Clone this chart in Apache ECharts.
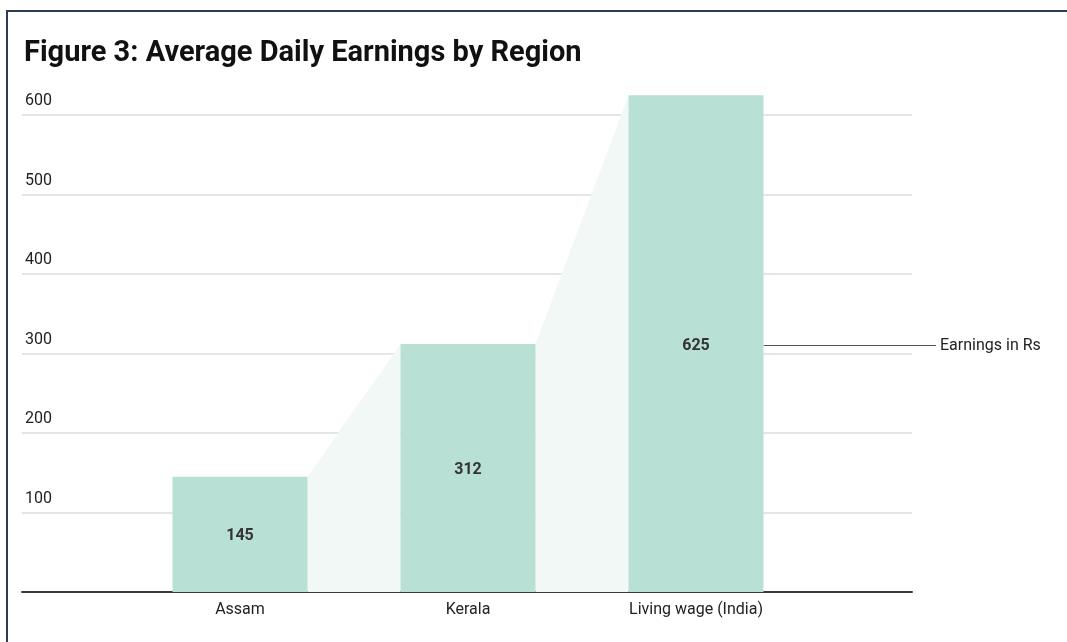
<!DOCTYPE html>
<html>
<head>
<meta charset="utf-8">
<script src="https://cdn.jsdelivr.net/npm/echarts@6/dist/echarts.min.js"></script>
<style>
  html, body { margin: 0; padding: 0; background: #fff; }
  #chart { width: 1067px; height: 642px; }
</style>
</head>
<body>
<div id="chart"></div>
<script>
// data
const categories = ["Assam", "Kerala", "Living wage (India)"];
const earnings = [145, 312, 625];
const yTicks = [0, 100, 200, 300, 400, 500, 600];
const seriesName = "Earnings in Rs";
const titleText = "Figure 3: Average Daily Earnings by Region";

const barColor = "#b9e0d5";
const bridgeColor = "#f2f8f6";
const barRatio = 135 / 228;

const chart = echarts.init(document.getElementById("chart"));

// connectors between neighbouring bar tops
const bridges = [];
for (let i = 0; i < earnings.length - 1; i++) {
  bridges.push([i, earnings[i], earnings[i + 1]]);
}

function frame(extra) {
  return [
    { type: "line", shape: { x1: 7, y1: 11, x2: 7, y2: 642 }, style: { stroke: "#2d3b55", lineWidth: 2 } },
    { type: "line", shape: { x1: 6, y1: 11, x2: 1067, y2: 11 }, style: { stroke: "#2d3b55", lineWidth: 2 } }
  ].concat(extra || []);
}

chart.setOption({
  animation: false,
  textStyle: { fontFamily: "Roboto" },
  title: {
    text: titleText,
    left: 19,
    top: 34,
    textStyle: { fontSize: 29, fontWeight: "bold", color: "#111", fontFamily: "Roboto" }
  },
  grid: [
    { left: 22, right: 155, top: 115, bottom: 50 },
    { left: 126, right: 257, top: 115, bottom: 50 }
  ],
  xAxis: [
    {
      gridIndex: 0,
      type: "value",
      min: 0,
      max: 1,
      axisLine: { show: true, lineStyle: { color: "#3a3a3a", width: 2 } },
      axisTick: { show: false },
      axisLabel: { show: false },
      splitLine: { show: false }
    },
    {
      gridIndex: 1,
      type: "category",
      data: categories,
      axisLine: { show: false },
      axisTick: { show: false },
      axisLabel: { color: "#222", fontSize: 16, margin: 10 }
    }
  ],
  yAxis: [
    {
      gridIndex: 0,
      type: "value",
      min: yTicks[0],
      max: yTicks[yTicks.length - 1],
      interval: 100,
      axisLine: { show: false },
      axisTick: { show: false },
      splitLine: { lineStyle: { color: "#dcdcdc", width: 1.5 } },
      axisLabel: {
        inside: true,
        color: "#222",
        fontSize: 16,
        align: "left",
        verticalAlign: "bottom",
        margin: 3,
        padding: [0, 0, 6, 0],
        formatter: v => (v === 0 ? "" : String(v))
      }
    },
    {
      gridIndex: 1,
      type: "value",
      min: yTicks[0],
      max: yTicks[yTicks.length - 1],
      interval: 100,
      show: false
    }
  ],
  graphic: frame(),
  series: [
    {
      type: "custom",
      xAxisIndex: 1,
      yAxisIndex: 1,
      z: 1,
      clip: false,
      data: bridges,
      renderItem: function (params, api) {
        const i = api.value(0);
        const a = api.coord([i, api.value(1)]);
        const b = api.coord([i + 1, api.value(2)]);
        const base = api.coord([i, 0])[1];
        const half = api.size([1, 0])[0] * barRatio / 2;
        return {
          type: "polygon",
          shape: {
            points: [
              [a[0] + half, a[1]],
              [b[0] - half, b[1]],
              [b[0] - half, base],
              [a[0] + half, base]
            ]
          },
          style: { fill: bridgeColor }
        };
      }
    },
    {
      name: seriesName,
      type: "bar",
      xAxisIndex: 1,
      yAxisIndex: 1,
      z: 2,
      clip: false,
      data: earnings,
      barWidth: (barRatio * 100).toFixed(1) + "%",
      itemStyle: { color: barColor },
      label: {
        show: true,
        position: "inside",
        color: "#333",
        fontWeight: "bold",
        fontSize: 16,
        offset: [0, 2]
      }
    }
  ]
});

// side label for the series, joined to the last bar
const last = earnings.length - 1;
const mid = chart.convertToPixel({ gridIndex: 1 }, [last, earnings[last] / 2]);
const band = chart.convertToPixel({ gridIndex: 1 }, [1, 0])[0] - chart.convertToPixel({ gridIndex: 1 }, [0, 0])[0];
const barRight = mid[0] + band * barRatio / 2;
const lineY = Math.round(mid[1]) + 1.5;
chart.setOption({
  graphic: frame([
    { type: "line", shape: { x1: barRight, y1: lineY, x2: 936, y2: lineY }, style: { stroke: "#555", lineWidth: 1 } },
    { type: "text", x: 940, y: lineY, style: { text: seriesName, fill: "#222", fontSize: 16, fontFamily: "Roboto", verticalAlign: "middle" } }
  ])
});
</script>
</body>
</html>
